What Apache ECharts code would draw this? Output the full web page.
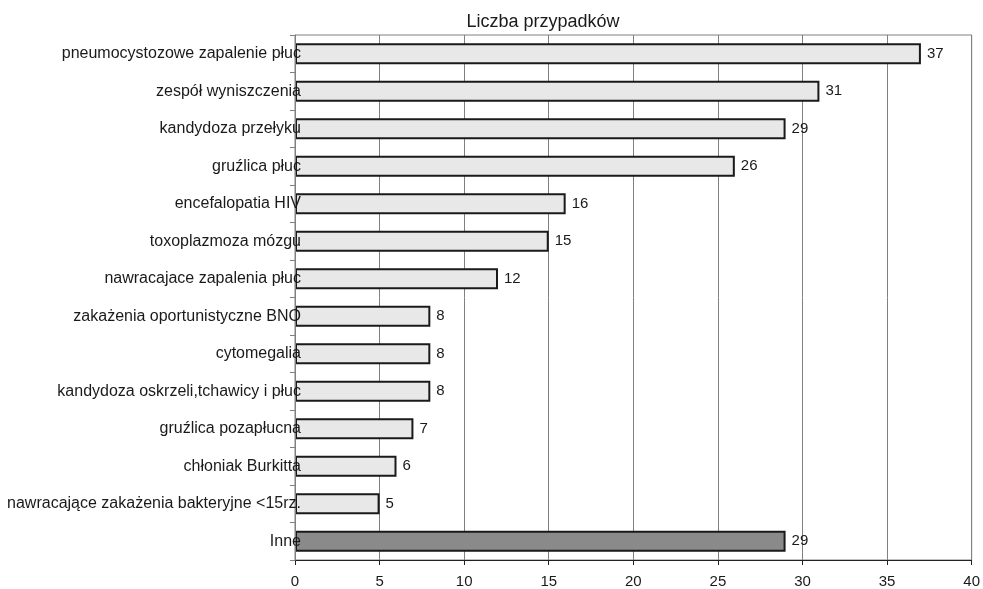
<!DOCTYPE html>
<html>
<head>
<meta charset="utf-8">
<script src="https://cdn.jsdelivr.net/npm/echarts@6/dist/echarts.min.js"></script>
<style>html,body{margin:0;padding:0;background:#fff}#c{width:983px;height:589px}</style>
</head>
<body>
<div id="c"></div>
<script>
const categories = [
  "pneumocystozowe zapalenie płuc",
  "zespół wyniszczenia",
  "kandydoza przełyku",
  "gruźlica płuc",
  "encefalopatia HIV",
  "toxoplazmoza mózgu",
  "nawracajace zapalenia płuc",
  "zakażenia oportunistyczne BNO",
  "cytomegalia",
  "kandydoza oskrzeli,tchawicy i płuc",
  "gruźlica pozapłucna",
  "chłoniak Burkitta",
  "nawracające zakażenia bakteryjne <15rz.",
  "Inne"
];
const values = [37, 31, 29, 26, 16, 15, 12, 8, 8, 8, 7, 6, 5, 29];
const xTicks = [0, 5, 10, 15, 20, 25, 30, 35, 40];
const titleText = "Liczba przypadków";

const font = "'Liberation Sans', Arial, sans-serif";
const chart = echarts.init(document.getElementById('c'));
chart.setOption({
  animation: false,
  backgroundColor: '#fff',
  title: {
    text: titleText, left: 538, top: 8, textAlign: 'center',
    textStyle: {fontFamily: font, fontSize: 18, fontWeight: 'normal', color: '#1a1a1a'}
  },
  grid: {left: 295, right: 10, top: 35, bottom: 28, show: true, borderColor: '#808080', borderWidth: 1},
  xAxis: {
    type: 'value', min: xTicks[0], max: xTicks[xTicks.length - 1], interval: 5,
    axisLine: {show: true, lineStyle: {color: '#222', width: 1}},
    axisTick: {show: true, length: 5, lineStyle: {color: '#222'}},
    splitLine: {show: true, lineStyle: {color: '#808080', width: 1}},
    axisLabel: {fontFamily: font, fontSize: 15, color: '#1a1a1a', margin: 14}
  },
  yAxis: {
    type: 'category', data: categories, inverse: true, z: 10,
    axisLine: {show: true, lineStyle: {color: '#808080'}},
    axisTick: {show: true, length: 5, lineStyle: {color: '#808080'}},
    axisLabel: {fontFamily: font, fontSize: 16, color: '#1a1a1a', margin: -6}
  },
  series: [{
    type: 'bar', barWidth: 21, z: 1,
    data: values.map((v, i) => ({
      value: v,
      itemStyle: {color: i === values.length - 1 ? '#8a8a8a' : '#e8e8e8', borderColor: '#1a1a1a', borderWidth: 2}
    })),
    label: {show: true, position: 'right', distance: 6, fontFamily: font, fontSize: 15, color: '#1a1a1a'}
  }]
});
</script>
</body>
</html>
